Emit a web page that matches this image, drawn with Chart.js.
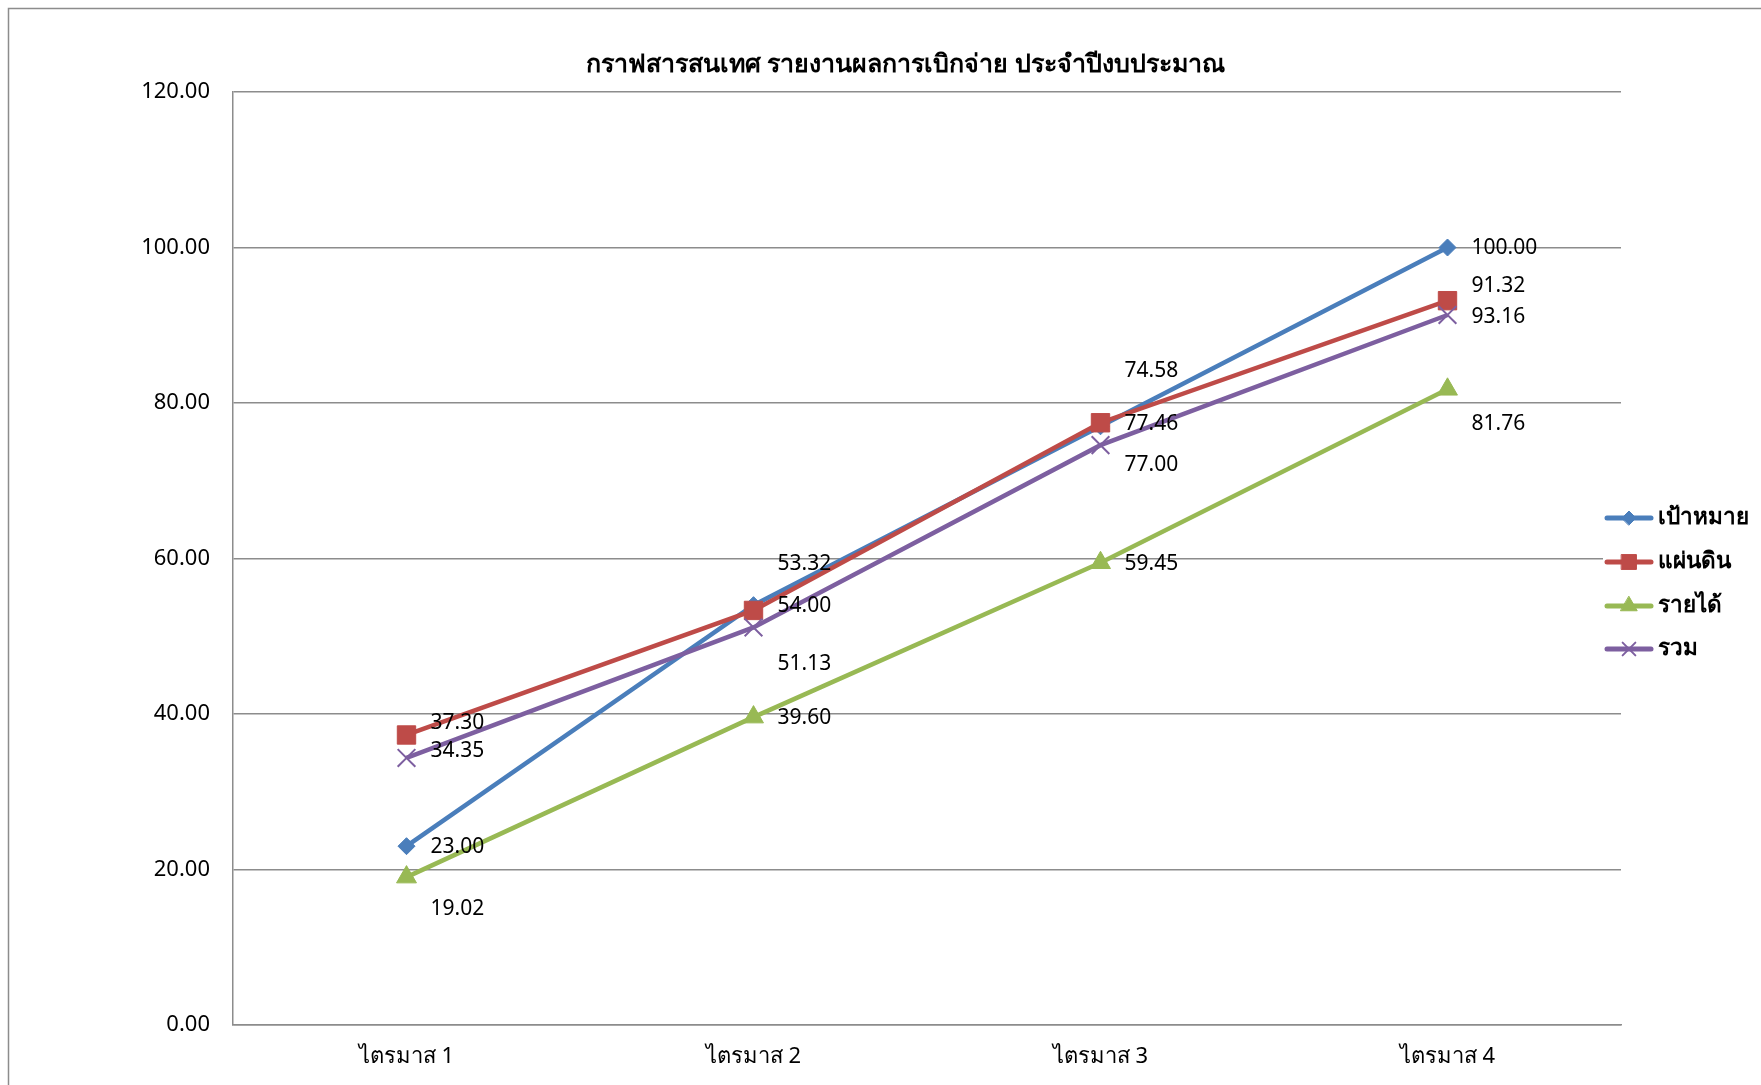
<!DOCTYPE html>
<html>
<head>
<meta charset="utf-8">
<script src="https://cdn.jsdelivr.net/npm/chart.js@4.4.0/dist/chart.umd.min.js"></script>
<style>
html,body{margin:0;padding:0;background:#fff;overflow:hidden;}
#wrap{position:relative;width:1761px;height:1085px;}
canvas{display:block;}
</style>
</head>
<body>
<div id="wrap"><canvas id="c" width="1761" height="1085"></canvas></div>
<script>
// ---- data ----
const chartTitle = 'กราฟสารสนเทศ รายงานผลการเบิกจ่าย ประจำปีงบประมาณ';
const categories = ['ไตรมาส 1', 'ไตรมาส 2', 'ไตรมาส 3', 'ไตรมาส 4'];
const seriesNames = ['เป้าหมาย', 'แผ่นดิน', 'รายได้', 'รวม'];
const targetValues = [23.00, 54.00, 77.00, 100.00];
const landValues = [37.30, 53.32, 77.46, 93.16];
const incomeValues = [19.02, 39.60, 59.45, 81.76];
const totalValues = [34.35, 51.13, 74.58, 91.32];
const yTickValues = [0, 20, 40, 60, 80, 100, 120];

// ---- style (label vertical nudges in px, as placed in the original) ----
const labelNudge = [
  [1, 1, 39, 1],
  [-12, -46, 1, 16],
  [32, 1, 1, 35],
  [-7, 37, -74, -29]
];
const colors = ['#4A7EBB', '#BE4B48', '#98B954', '#7D5FA0'];
const styles = ['rectRot', 'rect', 'triangle', 'crossRot'];
const radii = [8.5, 13, 11.5, 12.5];
const legendRadii = [7, 10.5, 9.5, 9];
const FONT = '"Noto Sans", "Open Sans", sans-serif';

const seriesValues = [targetValues, landValues, incomeValues, totalValues];

const datasets = seriesValues.map((vals, i) => ({
  label: seriesNames[i],
  data: vals,
  borderColor: colors[i],
  backgroundColor: colors[i],
  borderWidth: 4.5,
  pointStyle: styles[i],
  pointRadius: radii[i],
  pointHoverRadius: radii[i],
  pointBorderColor: colors[i],
  pointBackgroundColor: colors[i],
  pointBorderWidth: styles[i] === 'crossRot' ? 2 : 1,
  tension: 0,
  order: 4 - i
}));

function drawMarker(ctx, style, r, x, y, color, bw) {
  ctx.save();
  ctx.fillStyle = color; ctx.strokeStyle = color; ctx.lineWidth = bw;
  if (Chart.helpers && Chart.helpers.drawPoint) {
    Chart.helpers.drawPoint(ctx, {pointStyle: style, radius: r, borderWidth: bw, rotation: 0}, x, y);
  }
  ctx.restore();
}

const extras = {
  id: 'extras',
  beforeDraw(chart) {
    const ctx = chart.ctx;
    ctx.save();
    ctx.fillStyle = '#fff';
    ctx.fillRect(0, 0, chart.width, chart.height);
    ctx.restore();
  },
  afterDatasetsDraw(chart) {
    const ctx = chart.ctx;
    ctx.save();
    ctx.font = '21px ' + FONT;
    ctx.fillStyle = '#000';
    ctx.textBaseline = 'middle';
    ctx.textAlign = 'left';
    chart.data.datasets.forEach((ds, i) => {
      const meta = chart.getDatasetMeta(i);
      meta.data.forEach((pt, j) => {
        ctx.fillText(Number(ds.data[j]).toFixed(2), pt.x + 24, pt.y + labelNudge[i][j]);
      });
    });
    ctx.restore();
  },
  afterDraw(chart) {
    const ctx = chart.ctx;
    ctx.save();
    // outer chart border
    ctx.strokeStyle = '#8c8c8c';
    ctx.lineWidth = 1.5;
    ctx.beginPath();
    ctx.moveTo(8.5, chart.height + 5);
    ctx.lineTo(8.5, 8.5);
    ctx.lineTo(chart.width + 5, 8.5);
    ctx.stroke();
    // title
    ctx.fillStyle = '#000';
    ctx.font = 'bold 25px ' + FONT;
    ctx.textAlign = 'center';
    ctx.textBaseline = 'middle';
    ctx.fillText(chartTitle, 905, 65);
    // legend
    ctx.fillStyle = '#fff';
    ctx.fillRect(1603, 495, 158, 175);
    const ys = [518, 562, 606, 649];
    chart.data.datasets.forEach((ds, i) => {
      const y = ys[i];
      ctx.strokeStyle = colors[i];
      ctx.lineWidth = 5;
      ctx.lineCap = 'round';
      ctx.beginPath();
      ctx.moveTo(1607, y); ctx.lineTo(1651, y);
      ctx.stroke();
      drawMarker(ctx, styles[i], legendRadii[i], 1629, y, colors[i], styles[i] === 'crossRot' ? 2 : 1);
      ctx.fillStyle = '#000';
      ctx.font = 'bold 22.5px ' + FONT;
      ctx.textAlign = 'left';
      ctx.textBaseline = 'middle';
      ctx.fillText(ds.label, 1658, y);
    });
    ctx.restore();
  }
};

new Chart(document.getElementById('c'), {
  type: 'line',
  data: { labels: categories, datasets },
  options: {
    responsive: false,
    animation: false,
    events: [],
    layout: { padding: { left: 0, right: 140, top: 92, bottom: 0 } },
    plugins: { legend: { display: false }, title: { display: false }, tooltip: { enabled: false } },
    scales: {
      x: {
        offset: true,
        grid: { display: false, drawTicks: false },
        border: { display: true, color: '#8c8c8c', width: 1.5 },
        ticks: { color: '#000', font: { family: FONT, size: 22 }, padding: 19, maxRotation: 0 },
        afterFit(s) { s.height = 60; }
      },
      y: {
        min: 0, max: 120,
        afterBuildTicks(s) { s.ticks = yTickValues.map(v => ({ value: v })); },
        grid: { color: '#8c8c8c', lineWidth: 1.5, drawTicks: false },
        border: { display: true, color: '#8c8c8c', width: 1.5 },
        ticks: { color: '#000', font: { family: FONT, size: 22 }, padding: 23, callback: v => Number(v).toFixed(2) },
        afterFit(s) { s.width = 233; }
      }
    }
  },
  plugins: [extras]
});
</script>
</body>
</html>
